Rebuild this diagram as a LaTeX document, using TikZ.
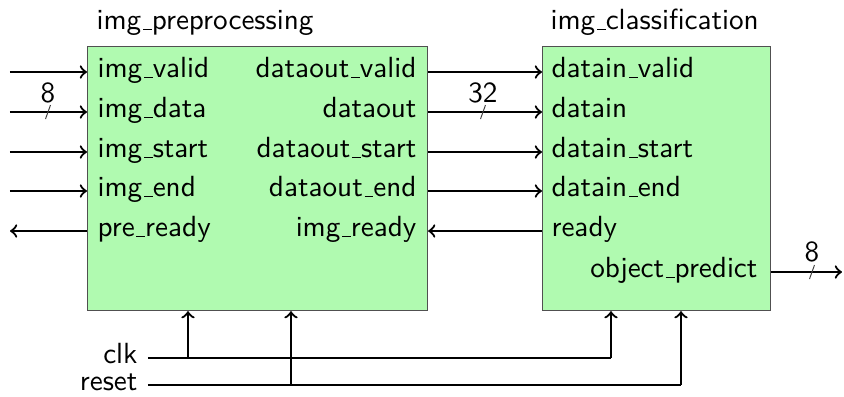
\documentclass[tikz,border=0pt]{standalone}
\usetikzlibrary{calc}
\definecolor{blockfill}{RGB}{176,250,176}
\definecolor{blockedge}{RGB}{80,80,80}
% low-set underscore rule, as in classic OT1 text fonts
\newcommand{\us}{\leavevmode\kern.06em\vbox{\hrule width.3em}}
\tikzset{
  block/.style={draw=blockedge, line width=0.4pt, fill=blockfill, inner sep=0pt},
  port/.style={inner sep=0pt, text height=1.3ex, text depth=0.3ex},
  sig/.style={line width=0.8pt, ->},
  wire/.style={line width=0.8pt},
  busmark/.style={line width=0.35pt, draw=black!75},
  buslabel/.style={inner sep=0pt},
}
\begin{document}
\begin{tikzpicture}[x=0.36pt, y=-0.36pt, font=\sffamily\fontsize{10.5}{12.6}\selectfont]
\useasboundingbox (0,0) rectangle (844,396);

% blocks
\node[block, anchor=north west, minimum width=122.4pt, minimum height=95.04pt] (pre) at (87,46) {};
\node[block, anchor=north west, minimum width=82.08pt, minimum height=95.04pt] (cls) at (542,46) {};

\node[port, anchor=west] (preT) at (96,24) {img\us preprocessing};
\node[port, anchor=west] (clsT) at (550,24) {img\us classification};

% ports of img_preprocessing
\node[port, anchor=west] (pi1) at (97,72)  {img\us valid};
\node[port, anchor=west] (pi2) at (97,112) {img\us data};
\node[port, anchor=west] (pi3) at (97,152) {img\us start};
\node[port, anchor=west] (pi4) at (97,191) {img\us end};
\node[port, anchor=west] (pi5) at (97,231) {pre\us ready};
\node[port, anchor=east] (po1) at (417,72)  {dataout\us valid};
\node[port, anchor=east] (po2) at (417,112) {dataout};
\node[port, anchor=east] (po3) at (417,152) {dataout\us start};
\node[port, anchor=east] (po4) at (417,191) {dataout\us end};
\node[port, anchor=east] (po5) at (417,231) {img\us ready};

% ports of img_classification
\node[port, anchor=west] (ci1) at (551,72)  {datain\us valid};
\node[port, anchor=west] (ci2) at (551,112) {datain};
\node[port, anchor=west] (ci3) at (551,152) {datain\us start};
\node[port, anchor=west] (ci4) at (551,191) {datain\us end};
\node[port, anchor=west] (ci5) at (551,231) {ready};
\node[port, anchor=east] (co1) at (758,272) {object\us predict};

% free ends of the outer signals
\coordinate (e1) at (10,72);
\coordinate (e2) at (10,112);
\coordinate (e3) at (10,152);
\coordinate (e4) at (10,191);
\coordinate (e5) at (10,231);
\coordinate (eo) at (842,272);

% inputs and handshake of img_preprocessing
\draw[sig] (e1) -- (e1 -| pre.west);
\draw[sig] (e2) -- (e2 -| pre.west);
\draw[sig] (e3) -- (e3 -| pre.west);
\draw[sig] (e4) -- (e4 -| pre.west);
\draw[sig] (e5 -| pre.west) -- (e5);

% links between the two blocks
\draw[sig] (po1 -| pre.east) -- (po1 -| cls.west);
\draw[sig] (po2 -| pre.east) -- (po2 -| cls.west);
\draw[sig] (po3 -| pre.east) -- (po3 -| cls.west);
\draw[sig] (po4 -| pre.east) -- (po4 -| cls.west);
\draw[sig] (po5 -| cls.west) -- (po5 -| pre.east);

% classifier output
\draw[sig] (co1 -| cls.east) -- (eo);

% bus widths
\coordinate (b1) at (48,112);
\coordinate (b2) at (483,112);
\coordinate (b3) at (812,272);
\draw[busmark] ($(b1)+(-2.5,7)$) -- ($(b1)+(2.5,-7)$);
\draw[busmark] ($(b2)+(-2.5,7)$) -- ($(b2)+(2.5,-7)$);
\draw[busmark] ($(b3)+(-2.5,7)$) -- ($(b3)+(2.5,-7)$);
\node[buslabel] (w1) at (48,93) {8};
\node[buslabel] (w2) at (483,93) {32};
\node[buslabel] (w3) at (812,252) {8};

% clock and reset
\node[port, anchor=east, inner sep=3.6pt] (clk) at (148,358) {clk};
\node[port, anchor=east, inner sep=3.6pt] (rst) at (148,385) {reset};
\coordinate (ck1) at (188,358);
\coordinate (ck2) at (611,358);
\coordinate (rs1) at (291,385);
\coordinate (rs2) at (681,385);

\draw[wire] (clk.east) -- (ck2);
\draw[sig] (ck1) -- (ck1 |- pre.south);
\draw[sig] (ck2) -- (ck2 |- cls.south);
\draw[wire] (rst.east) -- (rs2);
\draw[sig] (rs1) -- (rs1 |- pre.south);
\draw[sig] (rs2) -- (rs2 |- cls.south);
\end{tikzpicture}
\end{document}
